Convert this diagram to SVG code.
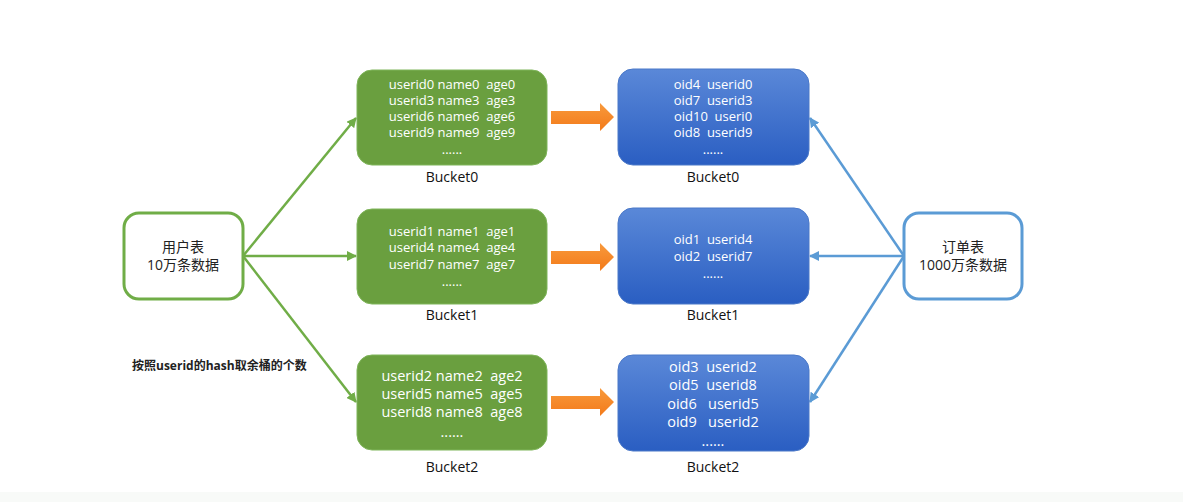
<svg xmlns="http://www.w3.org/2000/svg" width="1183" height="502" viewBox="0 0 1183 502">
  <defs>
    <linearGradient id="blueFill" x1="0" y1="0" x2="0" y2="1">
      <stop offset="0" stop-color="#5a88d8"/>
      <stop offset="1" stop-color="#2a5ec2"/>
    </linearGradient>
    <linearGradient id="orangeFill" x1="0" y1="0" x2="0" y2="1">
      <stop offset="0" stop-color="#f89a3c"/>
      <stop offset="1" stop-color="#f37a1a"/>
    </linearGradient>
    <marker id="headGreen" viewBox="0 0 10 10" refX="9" refY="5" markerWidth="4" markerHeight="4" orient="auto">
      <path d="M0,0 L10,5 L0,10 z" fill="#70ad47"/>
    </marker>
    <marker id="headBlue" viewBox="0 0 10 10" refX="9" refY="5" markerWidth="4" markerHeight="4" orient="auto">
      <path d="M0,0 L10,5 L0,10 z" fill="#5b9bd5"/>
    </marker>
    <style>
      .green { fill: #6a9f3f; stroke: #7fb55a; stroke-width: 1; }
      .blue { fill: url(#blueFill); stroke: #4a78c8; stroke-width: 1; }
      .t { font-family: "Open Sans", "Liberation Sans", sans-serif; fill: #ffffff; text-anchor: middle; white-space: pre; }
      .lbl { font-family: "Open Sans", "Liberation Sans", sans-serif; fill: #111111; font-size: 14px; text-anchor: middle; }
      .cjk { font-family: "Open Sans", "Noto Sans CJK SC", sans-serif; fill: #222222; font-size: 14px; text-anchor: middle; }
      .gline { stroke: #70ad47; stroke-width: 2.5; fill: none; marker-end: url(#headGreen); }
      .bline { stroke: #5b9bd5; stroke-width: 2.5; fill: none; marker-end: url(#headBlue); }
      .orange { fill: url(#orangeFill); }
    </style>
  </defs>

  <rect x="0" y="0" width="1183" height="502" fill="#ffffff"/>
  <rect x="0" y="492" width="1183" height="10" fill="#f8faf8"/>

  <!-- connectors -->
  <g id="connectors">
    <line class="gline" x1="243" y1="256" x2="356" y2="118"/>
    <line class="gline" x1="243" y1="256" x2="356" y2="256"/>
    <line class="gline" x1="243" y1="256" x2="356" y2="402"/>
    <line class="bline" x1="904" y1="256" x2="810" y2="118"/>
    <line class="bline" x1="904" y1="256" x2="810" y2="256"/>
    <line class="bline" x1="904" y1="256" x2="810" y2="402"/>
    <path class="orange" d="M551,111 L600,111 L600,103 L614,117 L600,131 L600,124 L551,124 z"/>
    <path class="orange" d="M551,251 L600,251 L600,243 L614,257 L600,271 L600,264 L551,264 z"/>
    <path class="orange" d="M551,396 L600,396 L600,388 L614,402 L600,416 L600,409 L551,409 z"/>
  </g>

  <!-- source tables -->
  <g id="userTable">
    <rect x="124" y="213" width="119" height="86" rx="15" fill="#ffffff" stroke="#70ad47" stroke-width="3"/>
    <text class="cjk" x="183" y="252">用户表</text>
    <text class="cjk" x="183" y="270">10万条数据</text>
  </g>
  <g id="orderTable">
    <rect x="904" y="213" width="118" height="86" rx="15" fill="#ffffff" stroke="#5b9bd5" stroke-width="3"/>
    <text class="cjk" x="963" y="252">订单表</text>
    <text class="cjk" x="963" y="270">1000万条数据</text>
  </g>

  <!-- user buckets -->
  <g id="userBucket0">
    <rect class="green" x="357" y="70" width="190" height="95" rx="15"/>
    <g class="t" font-size="13">
      <text x="452" y="89" xml:space="preserve">userid0 name0  age0</text>
      <text x="452" y="105" xml:space="preserve">userid3 name3  age3</text>
      <text x="452" y="121" xml:space="preserve">userid6 name6  age6</text>
      <text x="452" y="137" xml:space="preserve">userid9 name9  age9</text>
      <text x="452" y="154">......</text>
    </g>
    <text class="lbl" x="452" y="182">Bucket0</text>
  </g>
  <g id="userBucket1">
    <rect class="green" x="357" y="209" width="190" height="95" rx="15"/>
    <g class="t" font-size="13">
      <text x="452" y="236" xml:space="preserve">userid1 name1  age1</text>
      <text x="452" y="252" xml:space="preserve">userid4 name4  age4</text>
      <text x="452" y="269" xml:space="preserve">userid7 name7  age7</text>
      <text x="452" y="286">......</text>
    </g>
    <text class="lbl" x="452" y="320">Bucket1</text>
  </g>
  <g id="userBucket2">
    <rect class="green" x="357" y="355" width="190" height="95" rx="15"/>
    <g class="t" font-size="14.5">
      <text x="452" y="381" xml:space="preserve">userid2 name2  age2</text>
      <text x="452" y="399" xml:space="preserve">userid5 name5  age5</text>
      <text x="452" y="417" xml:space="preserve">userid8 name8  age8</text>
      <text x="452" y="437">......</text>
    </g>
    <text class="lbl" x="452" y="472">Bucket2</text>
  </g>

  <!-- order buckets -->
  <g id="orderBucket0">
    <rect class="blue" x="618" y="69" width="191" height="96" rx="15"/>
    <g class="t" font-size="13">
      <text x="713" y="89" xml:space="preserve">oid4  userid0</text>
      <text x="713" y="105" xml:space="preserve">oid7  userid3</text>
      <text x="713" y="121" xml:space="preserve">oid10  useri0</text>
      <text x="713" y="137" xml:space="preserve">oid8  userid9</text>
      <text x="713" y="154">......</text>
    </g>
    <text class="lbl" x="713" y="182">Bucket0</text>
  </g>
  <g id="orderBucket1">
    <rect class="blue" x="618" y="208" width="191" height="96" rx="15"/>
    <g class="t" font-size="13">
      <text x="713" y="244" xml:space="preserve">oid1  userid4</text>
      <text x="713" y="261" xml:space="preserve">oid2  userid7</text>
      <text x="713" y="278">......</text>
    </g>
    <text class="lbl" x="713" y="320">Bucket1</text>
  </g>
  <g id="orderBucket2">
    <rect class="blue" x="618" y="355" width="191" height="96" rx="15"/>
    <g class="t" font-size="14.5">
      <text x="713" y="372" xml:space="preserve">oid3  userid2</text>
      <text x="713" y="390" xml:space="preserve">oid5  userid8</text>
      <text x="713" y="409" xml:space="preserve">oid6   userid5</text>
      <text x="713" y="427" xml:space="preserve">oid9   userid2</text>
      <text x="713" y="446">......</text>
    </g>
    <text class="lbl" x="713" y="472">Bucket2</text>
  </g>

  <text x="132" y="370" font-family="Open Sans, Noto Sans CJK SC, sans-serif" font-size="12" font-weight="bold" fill="#222222">按照userid的hash取余桶的个数</text>
</svg>
